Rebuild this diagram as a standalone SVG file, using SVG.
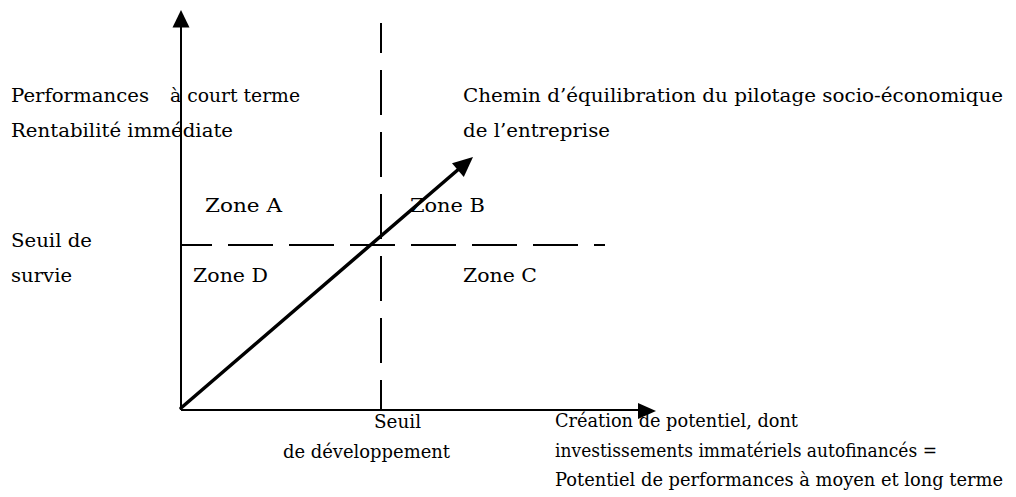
<svg xmlns="http://www.w3.org/2000/svg" width="1016" height="497" viewBox="0 0 1016 497">
<style>
text{font-family:"DejaVu Serif","Liberation Serif",serif;font-size:18px;fill:#000}
.ax{stroke:#000;stroke-width:2;fill:none}
.dash{stroke:#000;stroke-width:2;fill:none}
.diag{stroke:#000;stroke-width:3.5;fill:none;stroke-linecap:round}
.head{fill:#000;stroke:none}
</style>
<rect width="1016" height="497" fill="#fff"/>
<g id="connectors">
<path class="ax" d="M181 410 V25"/>
<polygon class="head" points="181,10 172.5,27.5 189.5,27.5"/>
<path class="ax" d="M181 410 H640"/>
<polygon class="head" points="656,411 638,403 638,419"/>
<path class="dash" d="M381 23 V410" stroke-dasharray="45 17" stroke-dashoffset="15"/>
<path class="dash" d="M181 245 H605" stroke-dasharray="45 16" stroke-dashoffset="14"/>
<path class="diag" d="M181 408 L460 168"/>
<polygon class="head" points="473,157 452,163.3 463.8,176.9"/>
</g>
<g id="y-axis-label">
<text y="102"><tspan x="11" textLength="138" lengthAdjust="spacingAndGlyphs">Performances</tspan><tspan x="170" textLength="130" lengthAdjust="spacingAndGlyphs">à court terme</tspan></text>
<text x="11" y="137" textLength="222" lengthAdjust="spacingAndGlyphs">Rentabilité immédiate</text>
</g>
<g id="path-label">
<text x="463" y="102" textLength="540" lengthAdjust="spacingAndGlyphs">Chemin d’équilibration du pilotage socio-économique</text>
<text x="463" y="137" textLength="147" lengthAdjust="spacingAndGlyphs">de l’entreprise</text>
</g>
<g id="zone-a"><text x="205" y="212" textLength="77" lengthAdjust="spacingAndGlyphs">Zone A</text></g>
<g id="zone-b"><text x="410" y="212" textLength="75" lengthAdjust="spacingAndGlyphs">Zone B</text></g>
<g id="zone-d"><text x="193" y="282" textLength="75" lengthAdjust="spacingAndGlyphs">Zone D</text></g>
<g id="zone-c"><text x="463" y="282" textLength="74" lengthAdjust="spacingAndGlyphs">Zone C</text></g>
<g id="survival-threshold">
<text x="11" y="247" textLength="81" lengthAdjust="spacingAndGlyphs">Seuil de</text>
<text x="11" y="282" textLength="61" lengthAdjust="spacingAndGlyphs">survie</text>
</g>
<g id="development-threshold">
<text x="374" y="428" textLength="47" lengthAdjust="spacingAndGlyphs">Seuil</text>
<text x="283" y="458" textLength="167" lengthAdjust="spacingAndGlyphs">de développement</text>
</g>
<g id="x-axis-label">
<text x="555" y="427" textLength="243" lengthAdjust="spacingAndGlyphs">Création de potentiel, dont</text>
<text x="555" y="457" textLength="382" lengthAdjust="spacingAndGlyphs">investissements immatériels autofinancés =</text>
<text x="555" y="486" textLength="448" lengthAdjust="spacingAndGlyphs">Potentiel de performances à moyen et long terme</text>
</g>
</svg>
